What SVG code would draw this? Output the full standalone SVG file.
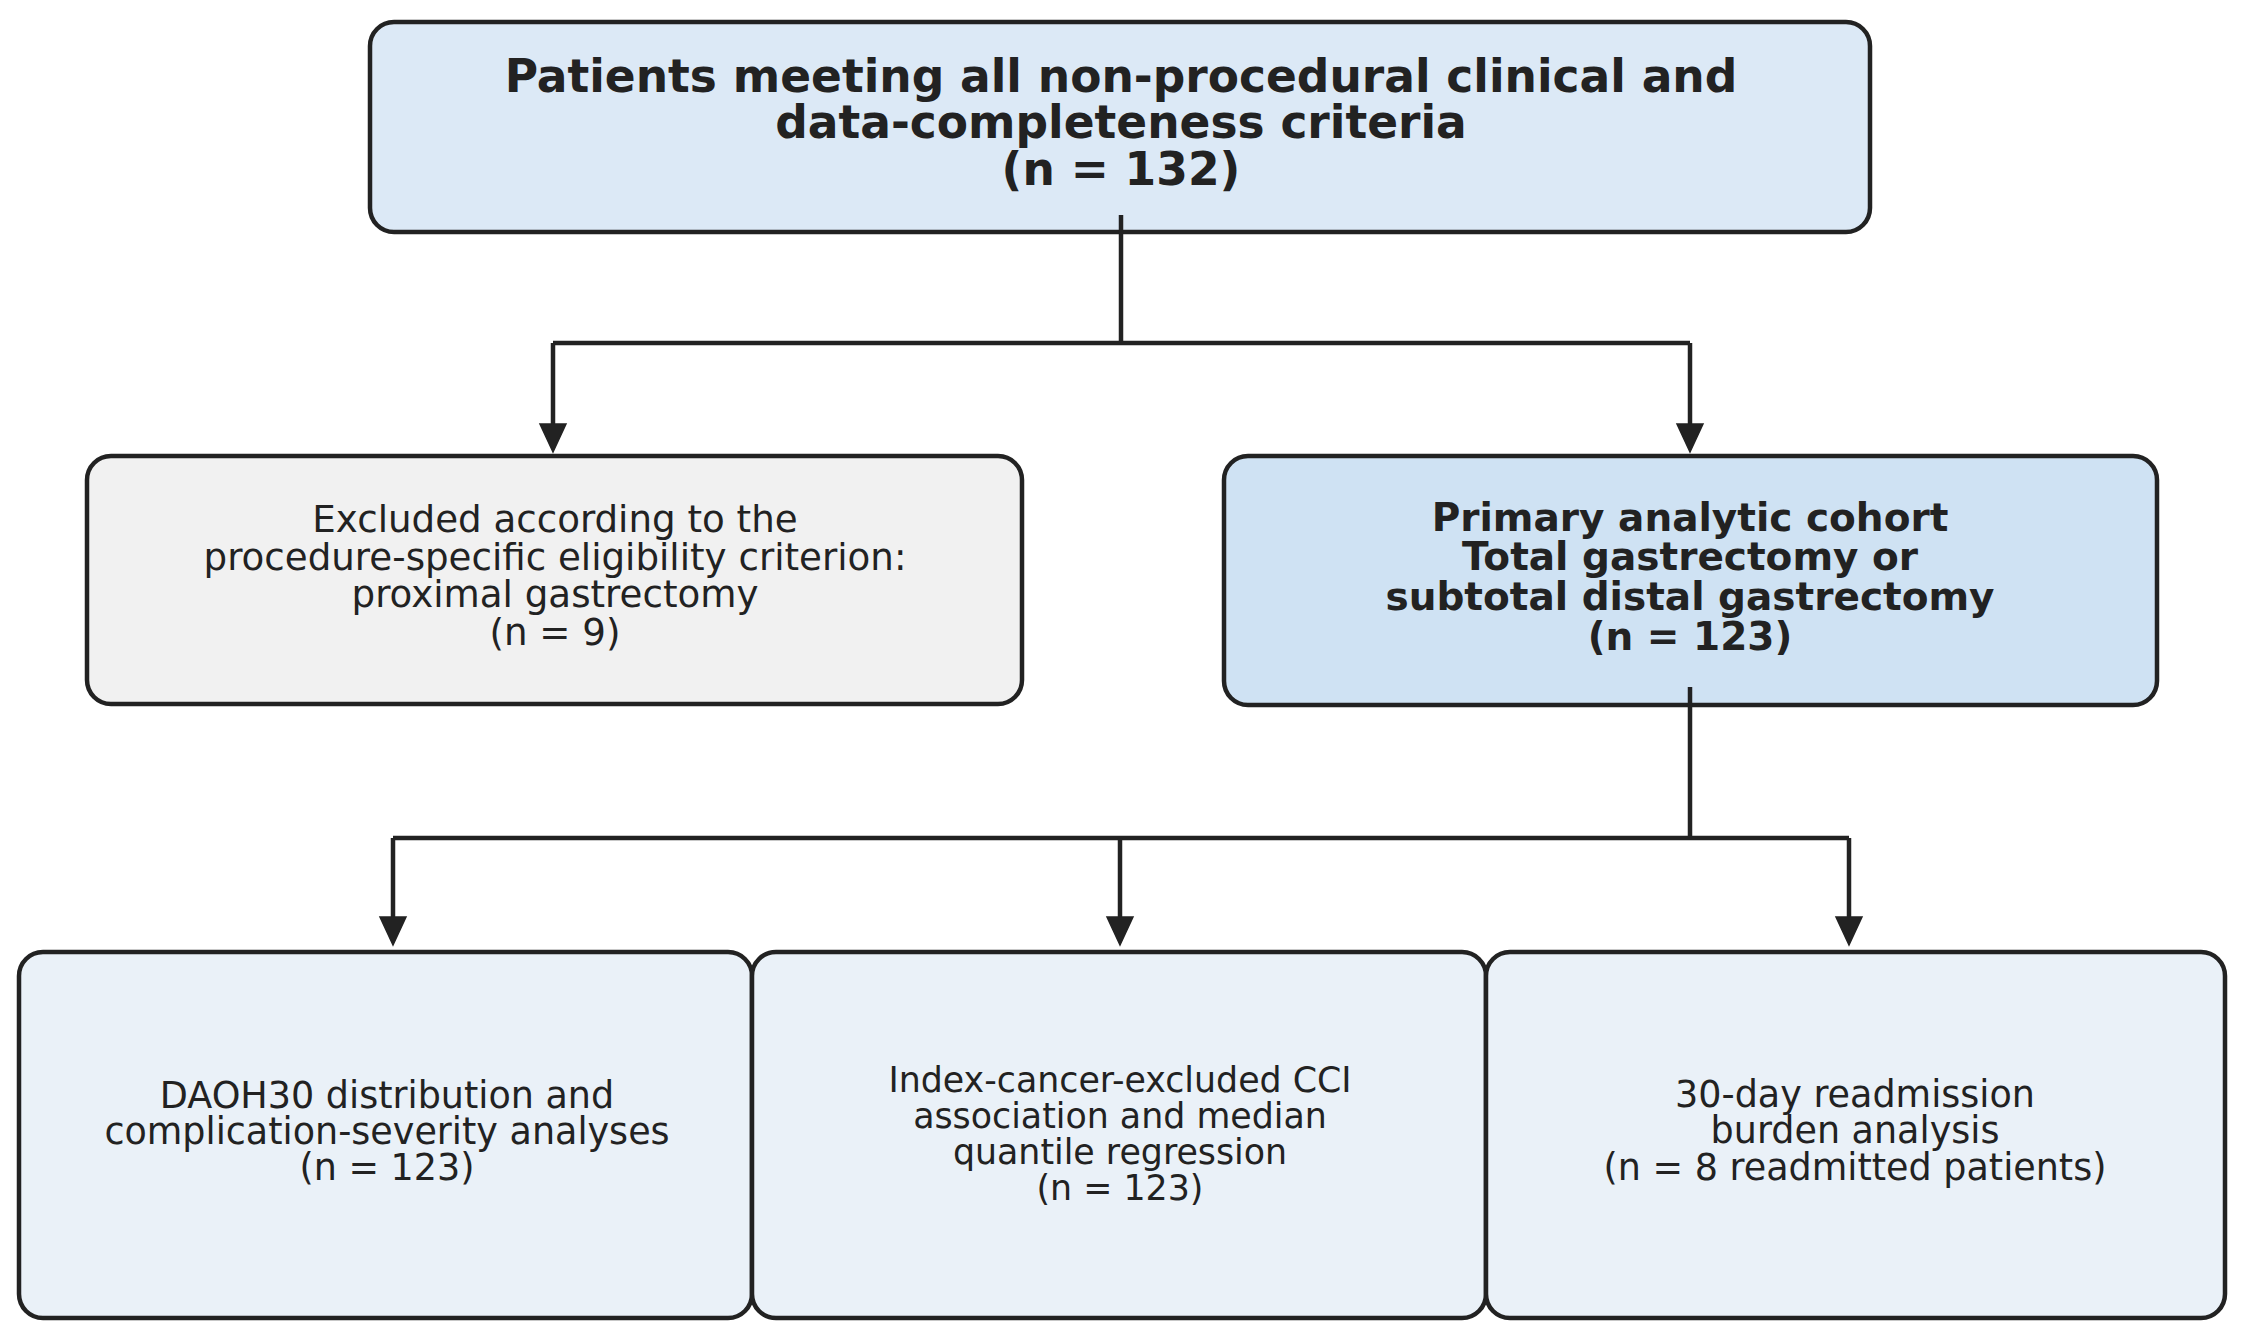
<svg xmlns="http://www.w3.org/2000/svg" width="2242" height="1337" viewBox="0 0 2242 1337">
<style>
.box{stroke:#222;stroke-width:4.5}
.t{font-family:"DejaVu Sans","Liberation Sans",sans-serif;fill:#222;text-anchor:middle}
.b{font-weight:bold}
.conn{fill:none;stroke:#222;stroke-width:4.5;stroke-linejoin:miter}
</style>
<defs>
<marker id="ah" markerUnits="userSpaceOnUse" markerWidth="32" markerHeight="32" viewBox="-2 -16 32 32" refX="0" refY="0" orient="auto" overflow="visible">
<path d="M0,-13 L28,0 L0,13 Z" fill="#222" stroke="#222" stroke-width="1.5" stroke-linejoin="miter"/>
</marker>
</defs>
<rect width="2242" height="1337" fill="#fff"/>
<g id="node-top">
<rect class="box" x="370" y="22" width="1500" height="210" rx="24" fill="#dce9f6"/>
<text class="t b" font-size="45.5"><tspan x="1121" y="92">Patients meeting all non-procedural clinical and</tspan><tspan x="1121" y="138">data-completeness criteria</tspan><tspan x="1121" y="185">(n = 132)</tspan></text>
</g>
<g id="node-excluded">
<rect class="box" x="87" y="456" width="935" height="248" rx="24" fill="#f1f1f1"/>
<text class="t" font-size="37.2"><tspan x="555" y="532">Excluded according to the</tspan><tspan x="555" y="570">procedure-specific eligibility criterion:</tspan><tspan x="555" y="607">proximal gastrectomy</tspan><tspan x="555" y="645">(n = 9)</tspan></text>
</g>
<g id="node-cohort">
<rect class="box" x="1224" y="456" width="933" height="249" rx="24" fill="#cfe2f3"/>
<text class="t b" font-size="39"><tspan x="1690" y="531">Primary analytic cohort</tspan><tspan x="1690" y="570">Total gastrectomy or</tspan><tspan x="1690" y="610">subtotal distal gastrectomy</tspan><tspan x="1690" y="650">(n = 123)</tspan></text>
</g>
<g id="node-daoh">
<rect class="box" x="19" y="952" width="733" height="366" rx="24" fill="#eaf1f8"/>
<text class="t" font-size="36.5"><tspan x="387" y="1108">DAOH30 distribution and</tspan><tspan x="387" y="1144">complication-severity analyses</tspan><tspan x="387" y="1180">(n = 123)</tspan></text>
</g>
<g id="node-cci">
<rect class="box" x="752" y="952" width="734" height="366" rx="24" fill="#eaf1f8"/>
<text class="t" font-size="34.8"><tspan x="1120" y="1092">Index-cancer-excluded CCI</tspan><tspan x="1120" y="1128">association and median</tspan><tspan x="1120" y="1164">quantile regression</tspan><tspan x="1120" y="1200">(n = 123)</tspan></text>
</g>
<g id="node-readmission">
<rect class="box" x="1486" y="952" width="739" height="366" rx="24" fill="#eaf1f8"/>
<text class="t" font-size="36.5"><tspan x="1855" y="1107">30-day readmission</tspan><tspan x="1855" y="1143">burden analysis</tspan><tspan x="1855" y="1180">(n = 8 readmitted patients)</tspan></text>
</g>
<g id="connectors">
<path class="conn" d="M1121,215 V343"/>
<path class="conn" d="M553,343 H1690"/>
<path class="conn" d="M553,343 V424" marker-end="url(#ah)"/>
<path class="conn" d="M1690,343 V424" marker-end="url(#ah)"/>
<path class="conn" d="M1690,687 V838"/>
<path class="conn" d="M393,838 H1849"/>
<path class="conn" d="M393,838 V917" marker-end="url(#ah)"/>
<path class="conn" d="M1120,838 V917" marker-end="url(#ah)"/>
<path class="conn" d="M1849,838 V917" marker-end="url(#ah)"/>
</g>
</svg>
